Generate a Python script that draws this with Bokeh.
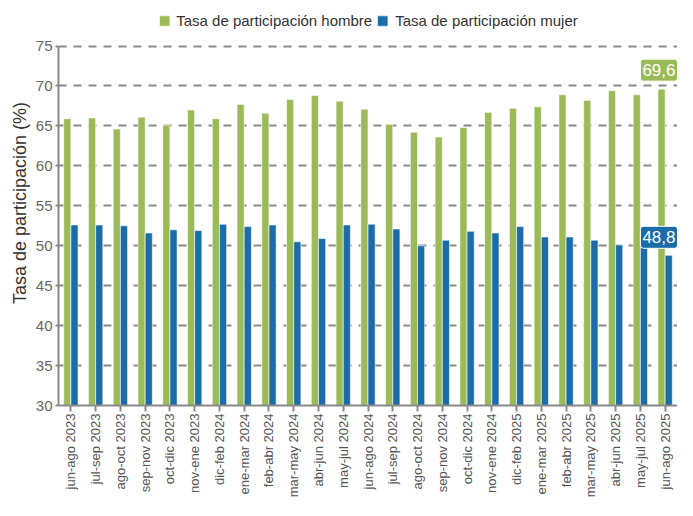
import math
from bokeh.plotting import figure
from bokeh.models import (FactorRange, Range1d, FixedTicker, Legend, LegendItem,
                          Label, ColumnDataSource)
from bokeh.transform import dodge
from bokeh.embed import file_html
from bokeh.resources import INLINE

categories = ["jun-ago 2023", "jul-sep 2023", "ago-oct 2023", "sep-nov 2023",
              "oct-dic 2023", "nov-ene 2023", "dic-feb 2024", "ene-mar 2024",
              "feb-abr 2024", "mar-may 2024", "abr-jun 2024", "may-jul 2024",
              "jun-ago 2024", "jul-sep 2024", "ago-oct 2024", "sep-nov 2024",
              "oct-dic 2024", "nov-ene 2024", "dic-feb 2025", "ene-mar 2025",
              "feb-abr 2025", "mar-may 2025", "abr-jun 2025", "may-jul 2025",
              "jun-ago 2025"]

hombre = [65.9, 66.0, 64.6, 66.1, 65.1, 67.0, 65.9, 67.7, 66.6, 68.3, 68.8, 68.1,
          67.1, 65.2, 64.2, 63.6, 64.8, 66.7, 67.2, 67.4, 68.9, 68.2, 69.4, 68.9, 69.6]

mujer = [52.6, 52.6, 52.5, 51.6, 52.0, 51.9, 52.7, 52.4, 52.6, 50.5, 50.9, 52.6,
         52.7, 52.1, 50.0, 50.7, 51.8, 51.6, 52.4, 51.1, 51.1, 50.7, 50.1, 49.8, 48.8]

y_ticks = [30, 35, 40, 45, 50, 55, 60, 65, 70, 75]
series_names = ["Tasa de participación hombre", "Tasa de participación mujer"]
y_title = "Tasa de participación (%)"

GREEN = "#9BBB59"
BLUE = "#1B6DAA"
GRAY = "#8a8a8a"
FONT = "Liberation Sans"
Y_TOP = 80.7   # headroom above the 75 line for the legend

src = ColumnDataSource(dict(cat=categories, hombre=hombre, mujer=mujer))

p = figure(x_range=FactorRange(*categories),
           y_range=Range1d(y_ticks[0], Y_TOP),
           width=677, height=500, output_backend="svg", toolbar_location=None,
           title=None, min_border_top=0, min_border_right=0, min_border_left=58,
           min_border_bottom=0)
p.outline_line_color = None
p.background_fill_color = "white"
p.border_fill_color = "white"

r1 = p.vbar(x=dodge("cat", -0.145, range=p.x_range), top="hombre", bottom=y_ticks[0],
            width=0.29, source=src, fill_color=GREEN, line_color="white",
            line_alpha=0.6, line_width=1)
r2 = p.vbar(x=dodge("cat", 0.145, range=p.x_range), top="mujer", bottom=y_ticks[0],
            width=0.29, source=src, fill_color=BLUE, line_color="white",
            line_alpha=0.6, line_width=1)

# grid
p.xgrid.grid_line_color = None
p.ygrid.grid_line_color = GRAY
p.ygrid.grid_line_width = 2
p.ygrid.grid_line_dash = "8 7"
p.ygrid.ticker = FixedTicker(ticks=y_ticks)

# y axis
p.yaxis.ticker = FixedTicker(ticks=y_ticks)
p.yaxis.bounds = (y_ticks[0], y_ticks[-1])
p.yaxis.axis_line_color = GRAY
p.yaxis.axis_line_width = 2
p.yaxis.major_tick_line_color = GRAY
p.yaxis.major_tick_line_width = 2
p.yaxis.major_tick_out = 3
p.yaxis.major_tick_in = 0
p.yaxis.minor_tick_line_color = None
p.yaxis.major_label_text_font = FONT
p.yaxis.major_label_text_font_size = "15px"
p.yaxis.major_label_text_color = "#666666"
p.yaxis.major_label_standoff = 3
p.yaxis.axis_label = y_title
p.yaxis.axis_label_text_font = FONT
p.yaxis.axis_label_text_font_size = "18px"
p.yaxis.axis_label_text_font_style = "normal"
p.yaxis.axis_label_text_color = "#333333"
p.yaxis.axis_label_standoff = 3

# x axis
p.xaxis.axis_line_color = GRAY
p.xaxis.axis_line_width = 2
p.xaxis.major_tick_line_color = GRAY
p.xaxis.major_tick_line_width = 2
p.xaxis.major_tick_out = 6
p.xaxis.major_tick_in = 0
p.xaxis.major_label_orientation = math.pi / 2
p.xaxis.major_label_text_font = FONT
p.xaxis.major_label_text_font_size = "13px"
p.xaxis.major_label_text_color = "#555555"
p.xaxis.major_label_standoff = 2

# legend (inside the frame, above the 75 line)
legend = Legend(items=[LegendItem(label=series_names[0], renderers=[r1]),
                       LegendItem(label=series_names[1], renderers=[r2])],
                orientation="horizontal", location="top_center",
                label_text_font=FONT, label_text_font_size="15px",
                label_text_color="#333333", glyph_width=13, glyph_height=13,
                label_standoff=6, spacing=4, padding=0, margin=12,
                border_line_color=None, background_fill_alpha=0)
p.add_layout(legend)

# data labels for last values
def fmt(v):
    return f"{v:.1f}".replace(".", ",")

n = len(categories)
lab1 = Label(x=n, y=hombre[-1], text=fmt(hombre[-1]), text_align="right",
             text_baseline="bottom", x_offset=0, y_offset=8,
             text_color="white", text_font=FONT, text_font_size="17px",
             background_fill_color=GREEN, border_line_color="white",
             border_line_width=1, padding=(2, 5), border_radius=3)
lab2 = Label(x=n, y=mujer[-1], text=fmt(mujer[-1]), text_align="right",
             text_baseline="bottom", x_offset=0, y_offset=7,
             text_color="white", text_font=FONT, text_font_size="17px",
             background_fill_color=BLUE, border_line_color="white",
             border_line_width=1, padding=(2, 5), border_radius=3)
p.add_layout(lab1)
p.add_layout(lab2)

open("out.html", "w").write(file_html(p, INLINE))
